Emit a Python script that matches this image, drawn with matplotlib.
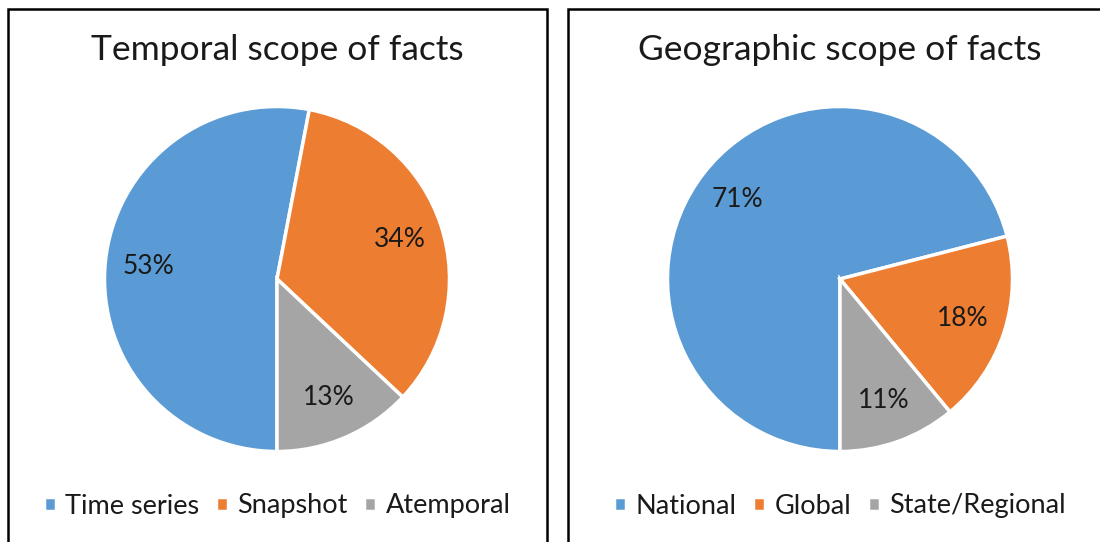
import matplotlib
matplotlib.use("Agg")
import matplotlib.pyplot as plt
from matplotlib.patches import Rectangle

plt.rcParams['font.family'] = ['Lato', 'DejaVu Sans']

# data
temporal_labels = ['Time series', 'Snapshot', 'Atemporal']
temporal_values = [53, 34, 13]
geo_labels = ['National', 'Global', 'State/Regional']
geo_values = [71, 18, 11]
colors = ['#5B9BD5', '#ED7D31', '#A5A5A5']

W, H = 1100, 542
fig = plt.figure(figsize=(W / 100, H / 100), dpi=100)


def px_axes(cx, cy, r):
    # axes box in figure coords from pixel centre / radius
    return fig.add_axes([(cx - r) / W, 1 - (cy + r) / H, 2 * r / W, 2 * r / H])


# panel borders
for x0, x1 in [(8, 547), (568, 1110)]:
    fig.patches.append(Rectangle((x0 / W, -0.05), (x1 - x0) / W, 1 - 9 / H + 0.05,
                                 transform=fig.transFigure, fill=False,
                                 edgecolor='black', linewidth=1.8))

panels = [
    (temporal_labels, temporal_values, 'Temporal scope of facts', 277),
    (geo_labels, geo_values, 'Geographic scope of facts', 840),
]

for labels, values, title, cx in panels:
    ax = px_axes(cx, 279, 172.5)
    wedges, texts, autotexts = ax.pie(
        values, colors=colors, startangle=-90, counterclock=False,
        autopct=lambda p: '%d%%' % round(p), pctdistance=0.75,
        wedgeprops=dict(edgecolor='white', linewidth=2.5),
        textprops=dict(fontsize=19, color='#1a1a1a'))
    ax.set_xlim(-1, 1)
    ax.set_ylim(-1, 1)
    ax.set_aspect('equal')
    ax.axis('off')

    fig.text(cx / W, 1 - 50 / H, title, ha='center', va='center', fontsize=25.5,
             color='#1a1a1a')
    fig.legend(wedges, labels, loc='center', bbox_to_anchor=(cx / W, 1 - 506 / H),
               ncol=3, frameon=False, fontsize=19.5, handlelength=0.45,
               handleheight=0.45, handletextpad=0.35, columnspacing=0.6,
               labelcolor='#1a1a1a')

fig.savefig('out.png', dpi=100)
